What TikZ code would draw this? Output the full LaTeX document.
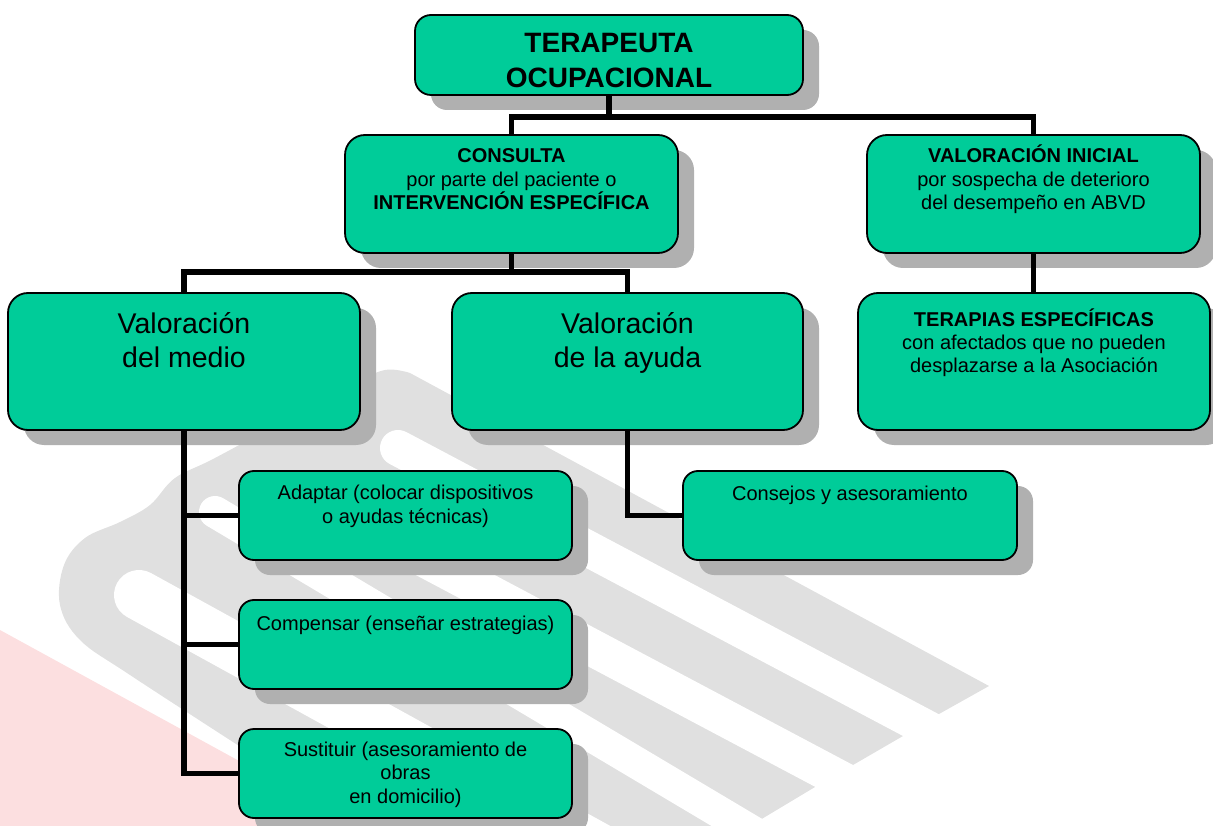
\documentclass[tikz,border=0pt]{standalone}
\usepackage{fontspec}
\setmainfont{Liberation Sans}
\usetikzlibrary{shadows}
\definecolor{boxgreen}{RGB}{0,204,153}
\definecolor{shadowgray}{RGB}{176,176,176}
\definecolor{wmgray}{RGB}{224,224,224}
\definecolor{wmpink}{RGB}{252,223,224}
\newcommand\tfTitle{\fontsize{28}{35}\selectfont\bfseries}
\newcommand\tfMed{\fontsize{28.5}{34}\selectfont}
\newcommand\tfSmall{\fontsize{20}{23.5}\selectfont}
\begin{document}
\begin{tikzpicture}[x=1pt,y=-1pt,
  box/.style={draw=black, line width=1.8pt, fill=boxgreen, rounded corners=#1, inner sep=0pt,
    drop shadow={shadow xshift=16pt, shadow yshift=-15pt, fill=shadowgray, opacity=1}},
  box/.default=18pt,
  conn/.style={line width=5.5pt, black},
  txt/.style={anchor=base, align=center, inner sep=0pt},
  small/.style={txt, font=\tfSmall},
  med/.style={txt, font=\tfMed},
  ttl/.style={txt, font=\tfTitle},
  gap/.style={white, line cap=round},
]
\useasboundingbox (0,0) rectangle (1213,826);
% watermark
\fill[wmpink] (0,630) -- (420,860) -- (0,860) -- cycle;
\fill[wmgray] (989,686) -- (939,714) -- (903,736) -- (853,765) -- (815,787) -- (765,817) -- (727,840) -- (700,900) -- (503,900) -- (250,753)
  -- plot[smooth, tension=0.6] coordinates {(250,753) (130,675) (80,640) (60,605) (64,565) (85,538) (120,522) (150,505) (175,478) (215,458) (300,412) (350,385) (385,370) (410,373)} -- cycle;
\draw[gap, line width=36pt] (398,448) -- (1300,926);
\draw[gap, line width=37pt] (310,498) -- (1300,1023);
\draw[gap, line width=32pt] (215,512) -- (1000,979);
\draw[gap, line width=50pt] (139,595) -- (900,1014);

% boxes
\node[box=16pt, minimum width=388pt, minimum height=80pt] (top) at (609,55) {};
\node[box=20pt, minimum width=333pt, minimum height=118pt] (cons) at (511.5,194) {};
\node[box=20pt, minimum width=333pt, minimum height=118pt] (vini) at (1033.5,194) {};
\node[box=20pt, minimum width=352pt, minimum height=137pt] (ter) at (1034,361.5) {};
\node[box=20pt, minimum width=352pt, minimum height=137pt] (vmed) at (184,361.5) {};
\node[box=20pt, minimum width=351pt, minimum height=137pt] (vayu) at (627.5,361.5) {};
\node[box=15pt, minimum width=333pt, minimum height=89pt] (adap) at (405.5,515.5) {};
\node[box=15pt, minimum width=333pt, minimum height=89pt] (comp) at (405.5,644.5) {};
\node[box=15pt, minimum width=333pt, minimum height=89pt] (sust) at (405.5,773.5) {};
\node[box=15pt, minimum width=334pt, minimum height=89pt] (cons2) at (850,515.5) {};

% texts (anchor = baseline of the last line)
\node[ttl] (topT) at (609,88) {TERAPEUTA\\OCUPACIONAL};
\node[small] (consT) at (511.5,210) {\textbf{CONSULTA}\\por parte del paciente o\\\textbf{INTERVENCIÓN ESPECÍFICA}};
\node[small] (viniT) at (1033.5,210) {\textbf{VALORACIÓN INICIAL}\\por sospecha de deterioro\\del desempeño en ABVD};
\node[small] (terT) at (1034,373) {\textbf{TERAPIAS ESPECÍFICAS}\\con afectados que no pueden\\desplazarse a la Asociación};
\node[med] (vmedT) at (184,367) {Valoración\\del medio};
\node[med] (vayuT) at (627.5,367) {Valoración\\de la ayuda};
\node[small] (adapT) at (405.5,523) {Adaptar (colocar dispositivos\\o ayudas técnicas)};
\node[small] (compT) at (405.5,630) {Compensar (enseñar estrategias)};
\node[small] (sustT) at (405.5,803) {Sustituir (asesoramiento de\\obras\\en domicilio)};
\node[small] (cons2T) at (850,500) {Consejos y asesoramiento};

% connectors
\coordinate (j1) at (609,117);
\coordinate (j2) at (511.5,272);
\draw[conn] (top.south) -- (j1);
\draw[conn] (cons.north) |- (j1) -| (vini.north);
\draw[conn] (cons.south) -- (j2);
\draw[conn] (vmed.north) |- (j2) -| (vayu.north);
\draw[conn] (vini.south) -- (vini.south |- ter.north);
\draw[conn] (vmed.south) |- (sust.west);
\draw[conn] (adap.west) -- (adap.west -| vmed.south);
\draw[conn] (comp.west) -- (comp.west -| vmed.south);
\draw[conn] (vayu.south) |- (cons2.west);
\end{tikzpicture}
\end{document}
